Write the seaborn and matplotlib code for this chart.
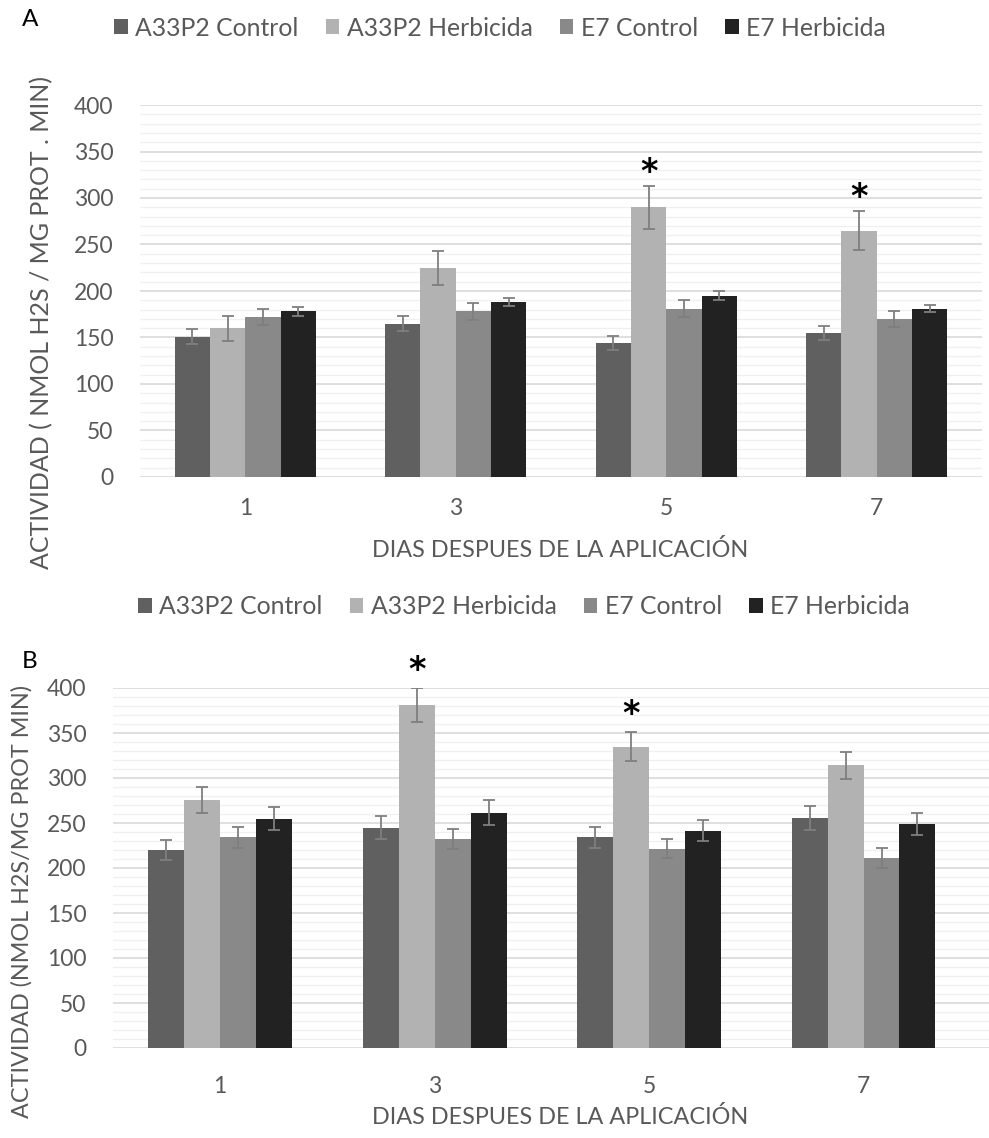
import numpy as np
import pandas as pd
import matplotlib
matplotlib.use("Agg")
import matplotlib.pyplot as plt
from matplotlib.patches import Patch
from matplotlib.ticker import MultipleLocator
import seaborn as sns

# ---- data -------------------------------------------------------------
days = ["1", "3", "5", "7"]
series = ["A33P2 Control", "A33P2 Herbicida", "E7 Control", "E7 Herbicida"]

# Panel A: activity (nmol H2S / mg prot . min)
a_a33p2_control = [151, 165, 144, 155]
a_a33p2_herb = [160, 225, 290, 265]
a_e7_control = [172, 178, 181, 170]
a_e7_herb = [178, 188, 195, 181]
a_err_a33p2_control = [8, 8, 7.5, 7.5]
a_err_a33p2_herb = [13.5, 18.5, 23, 21]
a_err_e7_control = [8.5, 9.5, 9, 9]
a_err_e7_herb = [4.5, 4.5, 4.5, 3.8]
a_significant = ["5", "7"]  # days with * on A33P2 Herbicida

# Panel B: activity (nmol H2S / mg prot min)
b_a33p2_control = [220, 245, 234, 255.5]
b_a33p2_herb = [276, 381, 335, 314]
b_e7_control = [234, 232, 221.5, 211]
b_e7_herb = [254.5, 261.5, 241.5, 249]
b_err_a33p2_control = [11, 12.8, 12, 13]
b_err_a33p2_herb = [14.4, 19, 16.5, 15.4]
b_err_e7_control = [12, 11, 10.7, 10.7]
b_err_e7_herb = [12.8, 13.7, 11.7, 12.6]
b_significant = ["3", "5"]

colors = ["#606060", "#b2b2b2", "#898989", "#222222"]
TXT = "#595959"

sns.set_style("white")
plt.rcParams["font.family"] = ["Lato", "DejaVu Sans"]


def long_table(vals, errs):
    rows = []
    for s, v, e in zip(series, vals, errs):
        for d, vi, ei in zip(days, v, e):
            rows.append({"day": d, "serie": s, "value": vi, "err": ei})
    return pd.DataFrame(rows)


dfA = long_table([a_a33p2_control, a_a33p2_herb, a_e7_control, a_e7_herb],
                 [a_err_a33p2_control, a_err_a33p2_herb, a_err_e7_control, a_err_e7_herb])
dfB = long_table([b_a33p2_control, b_a33p2_herb, b_e7_control, b_e7_herb],
                 [b_err_a33p2_control, b_err_a33p2_herb, b_err_e7_control, b_err_e7_herb])

W, H = 989, 1138
fig = plt.figure(figsize=(W / 100, H / 100), dpi=100)


def px_axes(left, right, top, bottom):
    return fig.add_axes([left / W, 1 - bottom / H, (right - left) / W, (bottom - top) / H])


axA = px_axes(140, 982, 105, 477)
axB = px_axes(113, 989, 688, 1048)


def draw_panel(ax, df, sig, ylabel, ylabel_size, xmax, star_gap, ylabel_xy,
               xlabel_xy, xpad):
    sns.barplot(data=df, x="day", y="value", hue="serie", order=days,
                hue_order=series, palette=colors, width=0.67, errorbar=None,
                saturation=1, linewidth=0, legend=False, ax=ax)
    # error bars at each bar centre
    for cont, s in zip(ax.containers, series):
        sub = df[df.serie == s].set_index("day").loc[days]
        xs = [b.get_x() + b.get_width() / 2 for b in cont]
        ax.errorbar(xs, sub["value"], yerr=sub["err"], fmt="none",
                    ecolor="#7f7f7f", elinewidth=1.3, capsize=4.5, capthick=1.3, zorder=4)
        if s == "A33P2 Herbicida":
            for x, d in zip(xs, days):
                if d in sig:
                    top = sub.loc[d, "value"] + sub.loc[d, "err"]
                    ax.text(x, top + star_gap, "*", ha="center", va="center",
                            fontsize=24, fontweight="bold", color="black",
                            family="DejaVu Sans", clip_on=False)
    ax.set_ylim(0, 400)
    ax.set_xlim(-0.5, xmax)
    ax.yaxis.set_major_locator(MultipleLocator(50))
    ax.yaxis.set_minor_locator(MultipleLocator(10))
    ax.grid(axis="y", which="major", color="#d9d9d9", linewidth=1.2, zorder=0)
    ax.grid(axis="y", which="minor", color="#f0f0f0", linewidth=1.0, zorder=0)
    ax.grid(axis="x", visible=False)
    ax.set_axisbelow(True)
    for sp in ax.spines.values():
        sp.set_visible(False)
    ax.tick_params(axis="both", which="both", length=0, labelsize=16.5, colors=TXT)
    ax.tick_params(axis="y", pad=19)
    ax.tick_params(axis="x", pad=xpad)
    ax.set_ylabel(ylabel, fontsize=ylabel_size, color=TXT)
    ax.yaxis.set_label_coords(*ylabel_xy)
    ax.set_xlabel("DIAS DESPUES DE LA APLICACIÓN", fontsize=16.8, color=TXT)
    ax.xaxis.set_label_coords(*xlabel_xy)


draw_panel(axA, dfA, a_significant, "ACTIVIDAD ( NMOL H2S / MG PROT . MIN)", 18,
           3.5, 14.5, ((53 - 140) / 842, (477 - 323) / 372),
           ((560 - 140) / 842, (477 - 539) / 372), 15)
draw_panel(axB, dfB, b_significant, "ACTIVIDAD (NMOL H2S/MG PROT MIN)", 16.8,
           3.5 + 19 / 223.7, 19, ((33 - 113) / 876, (1048 - 901) / 360),
           ((560 - 113) / 876, (1048 - 1106) / 360), 20)

handles = [Patch(facecolor=c, edgecolor="none", label=s) for c, s in zip(colors, series)]
for y, xc in [(28, 500), (607, 524)]:
    fig.legend(handles=handles, loc="center", bbox_to_anchor=(xc / W, 1 - y / H),
               ncol=4, frameon=False, fontsize=17.8, labelcolor=TXT,
               handlelength=0.55, handleheight=0.55, handletextpad=0.3, columnspacing=1.1)

fig.text(30 / W, 1 - 20 / H, "A", fontsize=17.5, color="black", ha="center", va="center")
fig.text(30 / W, 1 - 661 / H, "B", fontsize=17.5, color="black", ha="center", va="center")

fig.savefig("out.png", dpi=100, facecolor="white")
